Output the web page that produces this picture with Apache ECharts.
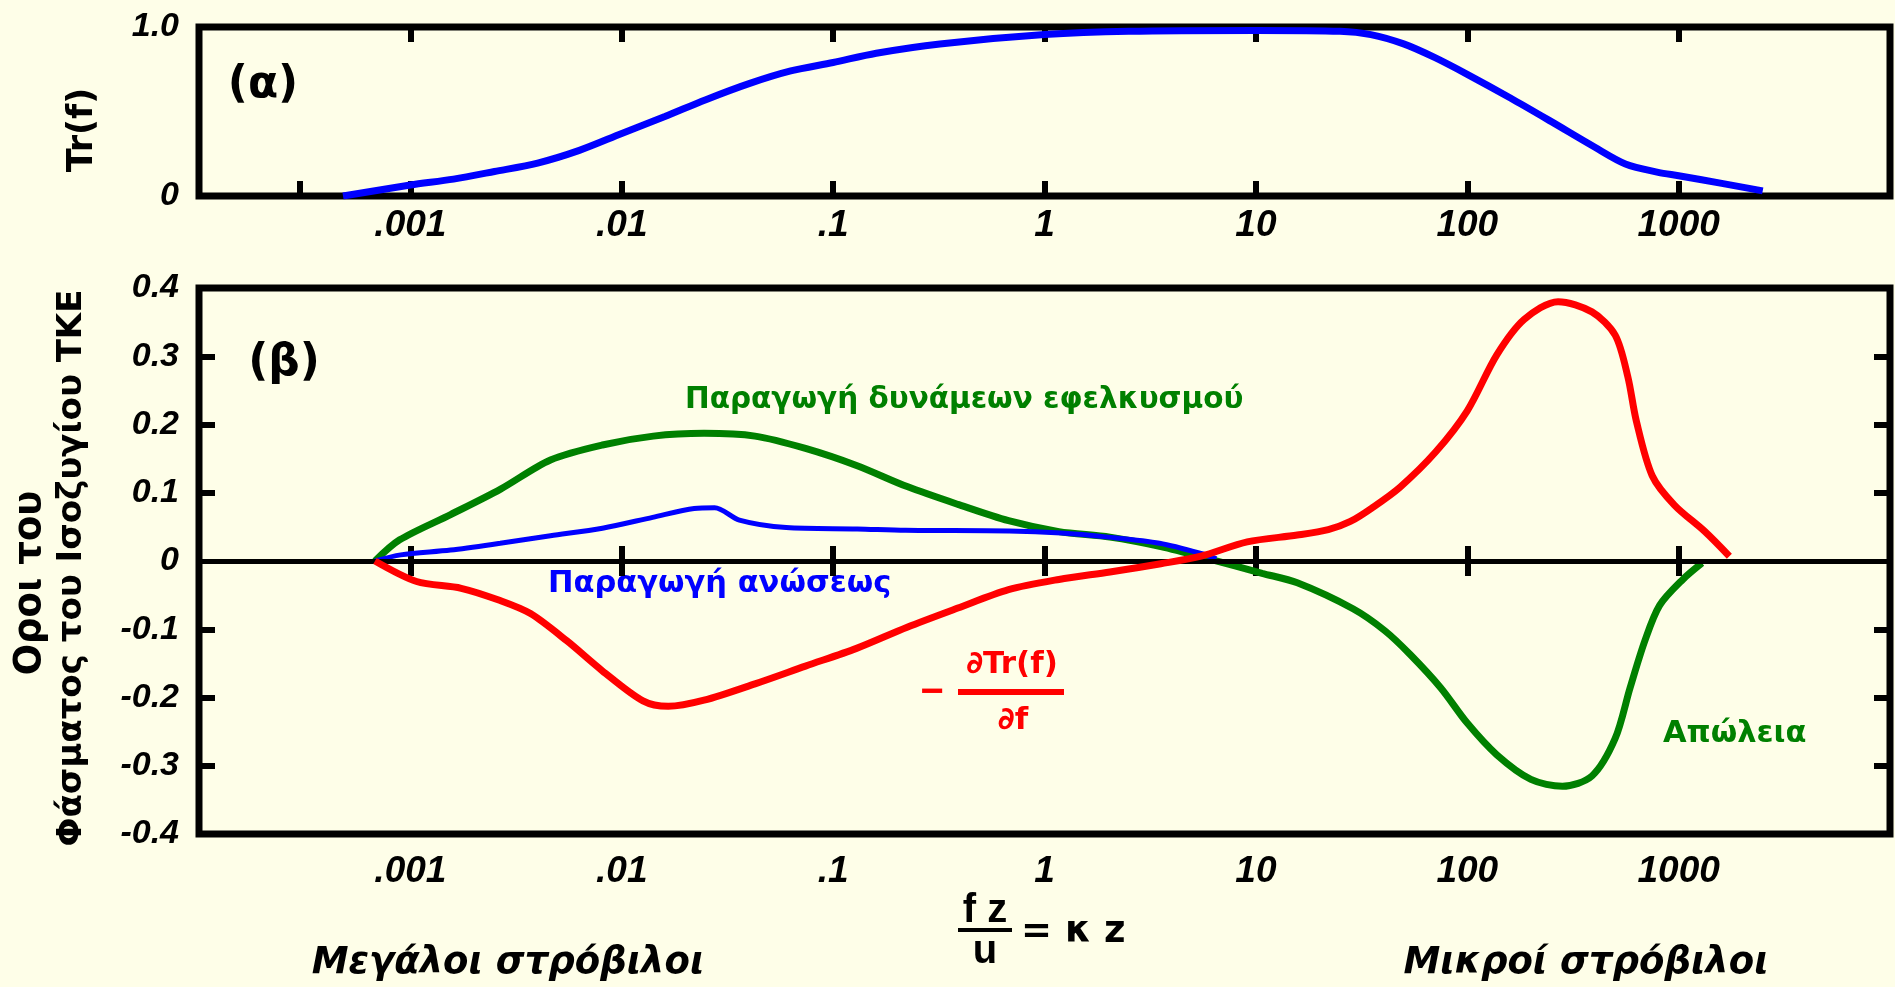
<!DOCTYPE html>
<html>
<head>
<meta charset="utf-8">
<script src="https://cdn.jsdelivr.net/npm/echarts@6/dist/echarts.min.js"></script>
<style>
html,body{margin:0;padding:0;background:#FEFEE8;}
#chart{width:1895px;height:987px;}
</style>
</head>
<body>
<div id="chart"></div>
<script>
// ---------- tick values / labels ----------
const xTickValues = [0.001, 0.01, 0.1, 1, 10, 100, 1000];
const xTickLabels = ['.001', '.01', '.1', '1', '10', '100', '1000'];
const xExtraBottomTicks = [0.0003];
const yTopTickValues = [0, 1];
const yTopTickLabels = ['0', '1.0'];
const yBotTickValues = [-0.4, -0.3, -0.2, -0.1, 0, 0.1, 0.2, 0.3, 0.4];
const yBotTickLabels = ['-0.4', '-0.3', '-0.2', '-0.1', '0', '0.1', '0.2', '0.3', '0.4'];
const yBotMinorTicks = [-0.3, -0.2, -0.1, 0.1, 0.2, 0.3];

// ---------- (α) Tr(f) ----------
const trF = [
  [4.8e-4, 0], [1e-3, 0.065], [1.6e-3, 0.10], [2.5e-3, 0.145], [4e-3, 0.195], [6.3e-3, 0.27],
  [0.01, 0.37], [0.016, 0.47], [0.025, 0.57], [0.04, 0.665], [0.063, 0.74], [0.1, 0.79],
  [0.16, 0.845], [0.32, 0.90], [1, 0.955], [2.5, 0.975], [10, 0.98], [25, 0.975], [35, 0.955],
  [50, 0.90], [70, 0.82], [100, 0.72], [160, 0.58], [250, 0.44], [400, 0.29], [560, 0.19],
  [800, 0.14], [1000, 0.12], [1600, 0.075], [2500, 0.03]
];

// ---------- (β) budget terms ----------
const buoyancy = [
  [6.8e-4, 0], [9e-4, 0.009], [1.55e-3, 0.016], [2.66e-3, 0.026], [4.6e-3, 0.037], [8.1e-3, 0.048],
  [0.014, 0.064], [0.022, 0.077], [0.0275, 0.078], [0.036, 0.06], [0.06, 0.049], [0.13, 0.047],
  [0.22, 0.045], [0.68, 0.044], [1.2, 0.041], [2.0, 0.035], [3.5, 0.026], [5.5, 0.011], [6.5, 0.003]
];
const shear = [
  [6.8e-4, 0], [8.9e-4, 0.031], [1.55e-3, 0.068], [2.66e-3, 0.105], [4.6e-3, 0.148], [8.1e-3, 0.17],
  [0.0141, 0.183], [0.0245, 0.187], [0.0427, 0.183], [0.074, 0.165], [0.129, 0.14], [0.224, 0.109],
  [0.389, 0.083], [0.676, 0.059], [1.17, 0.043], [2.04, 0.035], [3.55, 0.021], [6.17, 0.002],
  [10.7, -0.018], [15.7, -0.032], [28.8, -0.07], [40.7, -0.102], [53.7, -0.137], [75, -0.186],
  [100, -0.2375], [138, -0.284], [200, -0.32], [282, -0.33], [389, -0.315], [501, -0.26],
  [589, -0.186], [692, -0.117], [813, -0.065], [1047, -0.027], [1290, -0.003]
];
const transfer = [
  [6.8e-4, 0], [1.07e-3, -0.030], [1.74e-3, -0.040], [2.66e-3, -0.058], [3.7e-3, -0.077], [5.5e-3, -0.117],
  [8.1e-3, -0.161], [0.0126, -0.205], [0.0166, -0.213], [0.0245, -0.204], [0.0427, -0.18], [0.074, -0.154],
  [0.129, -0.128], [0.224, -0.097], [0.389, -0.069], [0.676, -0.042], [1.17, -0.027], [2.04, -0.016],
  [3.55, -0.004], [5.5, 0.007], [9.1, 0.028], [15.7, 0.038], [22, 0.046], [28, 0.058], [35.5, 0.078],
  [48, 0.108], [71, 0.16], [100, 0.22], [138, 0.302], [186, 0.354], [269, 0.38], [389, 0.365],
  [501, 0.331], [575, 0.27], [631, 0.205], [750, 0.125], [955, 0.082], [1333, 0.043], [1738, 0.007]
];

// ---------- styling ----------
const BG = '#FEFEE8';
const GREEN = '#008000';
const BLUE = '#0000FF';
const RED = '#FF0000';
const tickFont = {fontFamily: 'Liberation Sans', fontWeight: 'bold', fontStyle: 'italic', color: '#000'};
const greekFont = 'DejaVu Sans';

function lookup(values, labels, v) {
  for (let i = 0; i < values.length; i++) {
    if (Math.abs(values[i] - v) < 1e-9) return labels[i];
  }
  return '';
}
function xFmt(v) {
  for (let i = 0; i < xTickValues.length; i++) {
    if (Math.abs(Math.log10(xTickValues[i]) - Math.log10(v)) < 1e-6) return xTickLabels[i];
  }
  return '';
}

function xAxis(gridIndex, position, showLabels, ticks, margin) {
  return {
    type: 'log', logBase: 10, gridIndex: gridIndex, position: position,
    min: 1e-4, max: 1e4,
    axisLine: {show: false},
    splitLine: {show: false},
    minorTick: {show: false},
    axisTick: {show: true, inside: true, length: 15, customValues: ticks,
               lineStyle: {color: '#000', width: 6}},
    axisLabel: Object.assign({show: showLabels, customValues: xTickValues, formatter: xFmt,
               margin: margin, fontSize: 37}, tickFont)
  };
}

const chart = echarts.init(document.getElementById('chart'), null, {renderer: 'canvas'});

const option = {
  backgroundColor: BG,
  animation: false,
  grid: [
    {left: 199, top: 27, width: 1691, height: 169, show: true, borderColor: '#000', borderWidth: 7, backgroundColor: 'transparent'},
    {left: 199, top: 288, width: 1691, height: 546, show: true, borderColor: '#000', borderWidth: 7, backgroundColor: 'transparent'}
  ],
  xAxis: [
    xAxis(0, 'bottom', true, xExtraBottomTicks.concat(xTickValues), 11),
    xAxis(0, 'top', false, xTickValues, 8),
    xAxis(1, 'bottom', true, xTickValues, 19),
    xAxis(1, 'top', false, xTickValues, 8)
  ],
  yAxis: [
    {type: 'value', gridIndex: 0, position: 'left', min: 0, max: 1,
     axisLine: {show: false}, splitLine: {show: false}, axisTick: {show: false},
     axisLabel: Object.assign({customValues: yTopTickValues, fontSize: 34, margin: 20,
       formatter: v => lookup(yTopTickValues, yTopTickLabels, v)}, tickFont)},
    {type: 'value', gridIndex: 1, position: 'left', min: -0.4, max: 0.4, interval: 0.1,
     axisLine: {show: false}, splitLine: {show: false},
     axisTick: {show: true, inside: true, length: 16, customValues: yBotMinorTicks, lineStyle: {color: '#000', width: 6}},
     axisLabel: Object.assign({customValues: yBotTickValues, fontSize: 34, margin: 20,
       formatter: v => lookup(yBotTickValues, yBotTickLabels, v)}, tickFont)},
    {type: 'value', gridIndex: 1, position: 'right', min: -0.4, max: 0.4, interval: 0.1,
     axisLine: {show: false}, splitLine: {show: false},
     axisTick: {show: true, inside: true, length: 16, customValues: yBotMinorTicks, lineStyle: {color: '#000', width: 6}},
     axisLabel: {show: false}}
  ],
  series: [
    {type: 'line', name: 'Tr(f)', xAxisIndex: 0, yAxisIndex: 0, data: trF, smooth: 0.3,
     showSymbol: false, lineStyle: {color: BLUE, width: 7}, z: 3},
    {type: 'line', name: 'shear', xAxisIndex: 2, yAxisIndex: 1, data: shear, smooth: 0.3,
     showSymbol: false, lineStyle: {color: GREEN, width: 7}, z: 3,
     markLine: {silent: true, symbol: ['none', 'none'], label: {show: false},
       lineStyle: {color: '#000', width: 5, type: 'solid'}, data: [{yAxis: 0}], animation: false}},
    {type: 'line', name: 'buoyancy', xAxisIndex: 2, yAxisIndex: 1, data: buoyancy, smooth: 0.3,
     showSymbol: false, lineStyle: {color: BLUE, width: 5}, z: 4},
    {type: 'line', name: 'transfer', xAxisIndex: 2, yAxisIndex: 1, data: transfer, smooth: 0.3,
     showSymbol: false, lineStyle: {color: RED, width: 7}, z: 5}
  ],
  graphic: [
    {type: 'text', x: 263, y: 86, style: {text: '(α)', fontFamily: greekFont, fontWeight: 'bold', fontSize: 44, fill: '#000', textAlign: 'center', textVerticalAlign: 'middle'}},
    {type: 'text', x: 284, y: 364, style: {text: '(β)', fontFamily: greekFont, fontWeight: 'bold', fontSize: 44, fill: '#000', textAlign: 'center', textVerticalAlign: 'middle'}},
    {type: 'text', x: 83, y: 130, rotation: Math.PI / 2, style: {text: 'Tr(f)', fontFamily: greekFont, fontWeight: 'bold', fontSize: 35, fill: '#000', textAlign: 'center', textVerticalAlign: 'middle'}},
    {type: 'text', x: 30, y: 583, rotation: Math.PI / 2, style: {text: 'Οροι του', fontFamily: greekFont, fontWeight: 'bold', fontSize: 37, fill: '#000', textAlign: 'center', textVerticalAlign: 'middle'}},
    {type: 'text', x: 72, y: 568, rotation: Math.PI / 2, style: {text: 'Φάσματος του Ισοζυγίου ΤΚΕ', fontFamily: greekFont, fontWeight: 'bold', fontSize: 34, fill: '#000', textAlign: 'center', textVerticalAlign: 'middle'}},
    {type: 'text', x: 685, y: 400, style: {text: 'Παραγωγή δυνάμεων εφελκυσμού', fontFamily: greekFont, fontWeight: 'bold', fontSize: 29.5, fill: GREEN, textAlign: 'left', textVerticalAlign: 'middle'}},
    {type: 'text', x: 548, y: 584, style: {text: 'Παραγωγή ανώσεως', fontFamily: greekFont, fontWeight: 'bold', fontSize: 30.5, fill: BLUE, textAlign: 'left', textVerticalAlign: 'middle'}},
    {type: 'text', x: 1663, y: 734, style: {text: 'Απώλεια', fontFamily: greekFont, fontWeight: 'bold', fontSize: 30.5, fill: GREEN, textAlign: 'left', textVerticalAlign: 'middle'}},
    {type: 'text', x: 932, y: 693, style: {text: '−', fontFamily: 'Liberation Sans', fontWeight: 'bold', fontSize: 40, fill: RED, textAlign: 'center', textVerticalAlign: 'middle'}},
    {type: 'text', x: 1012, y: 665, style: {text: '∂Tr(f)', fontFamily: greekFont, fontWeight: 'bold', fontSize: 31, fill: RED, textAlign: 'center', textVerticalAlign: 'middle'}},
    {type: 'line', shape: {x1: 958, y1: 692, x2: 1064, y2: 692}, style: {stroke: RED, lineWidth: 6}},
    {type: 'text', x: 1013, y: 721, style: {text: '∂f', fontFamily: greekFont, fontWeight: 'bold', fontSize: 31, fill: RED, textAlign: 'center', textVerticalAlign: 'middle'}},
    {type: 'text', x: 985, y: 911, style: {text: 'f z', fontFamily: 'Liberation Sans', fontWeight: 'bold', fontSize: 40, fill: '#000', textAlign: 'center', textVerticalAlign: 'middle'}},
    {type: 'line', shape: {x1: 958, y1: 930, x2: 1012, y2: 930}, style: {stroke: '#000', lineWidth: 4}},
    {type: 'text', x: 985, y: 952, style: {text: 'u', fontFamily: 'Liberation Sans', fontWeight: 'bold', fontSize: 40, fill: '#000', textAlign: 'center', textVerticalAlign: 'middle'}},
    {type: 'text', x: 1021, y: 932, style: {text: '= κ z', fontFamily: greekFont, fontWeight: 'bold', fontSize: 37, fill: '#000', textAlign: 'left', textVerticalAlign: 'middle'}},
    {type: 'text', x: 508, y: 963, style: {text: 'Μεγάλοι στρόβιλοι', fontFamily: greekFont, fontWeight: 'bold', fontStyle: 'italic', fontSize: 37, fill: '#000', textAlign: 'center', textVerticalAlign: 'middle'}},
    {type: 'text', x: 1586, y: 963, style: {text: 'Μικροί στρόβιλοι', fontFamily: greekFont, fontWeight: 'bold', fontStyle: 'italic', fontSize: 37, fill: '#000', textAlign: 'center', textVerticalAlign: 'middle'}}
  ]
};
chart.setOption(option);
</script>
</body>
</html>
